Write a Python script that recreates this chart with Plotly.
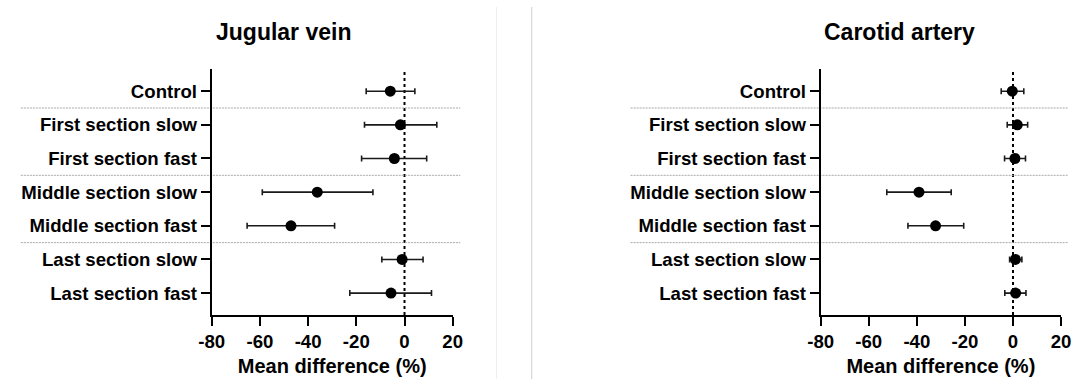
import plotly.graph_objects as go

# Groups shown on both forest plots (top to bottom)
categories = [
    "Control",
    "First section slow",
    "First section fast",
    "Middle section slow",
    "Middle section fast",
    "Last section slow",
    "Last section fast",
]

# Jugular vein: mean difference (%) with 95% CI bounds
jugular_mean = [-5.9, -1.7, -4.2, -36.2, -47.1, -1.0, -5.6]
jugular_low = [-15.9, -16.6, -17.8, -59.0, -65.3, -9.4, -22.7]
jugular_high = [4.3, 13.4, 9.2, -13.1, -29.0, 7.7, 11.2]

# Carotid artery: mean difference (%) with 95% CI bounds
carotid_mean = [-0.3, 1.8, 0.8, -39.1, -32.2, 1.0, 1.1]
carotid_low = [-4.9, -2.4, -3.5, -52.5, -43.7, -1.4, -3.4]
carotid_high = [4.5, 6.1, 5.2, -25.7, -20.5, 3.7, 5.4]

x_ticks = [-80, -60, -40, -20, 0, 20]
group_breaks = [0.5, 2.5, 4.5]

W, H = 1083, 379
FONT = "Liberation Sans"

def px_x(p):
    return p / W

def px_y(p):
    return 1 - p / H

ypos = list(range(len(categories)))

fig = go.Figure()

def add_series(mean, low, high, xa, ya):
    fig.add_trace(go.Scatter(
        x=mean, y=ypos, mode="markers",
        marker=dict(color="black", size=11),
        error_x=dict(
            type="data", symmetric=False,
            array=[h - m for h, m in zip(high, mean)],
            arrayminus=[m - l for m, l in zip(mean, low)],
            color="#1a1a1a", thickness=1.6, width=3,
        ),
        xaxis=xa, yaxis=ya, showlegend=False, hoverinfo="skip",
    ))

add_series(jugular_mean, jugular_low, jugular_high, "x", "y")
add_series(carotid_mean, carotid_low, carotid_high, "x2", "y2")

y_dom = [px_y(315), px_y(69.3)]
panels = {
    "": [px_x(203), px_x(449.25)],
    "2": [px_x(825.2), px_x(1070.8)],
}

tick_font = dict(family=FONT, size=18.6, color="black", weight="bold")
for suffix, dom in panels.items():
    fig.layout["xaxis" + suffix] = dict(
        domain=dom, anchor="y" + suffix, range=[-80, 20],
        tickvals=x_ticks, ticktext=[str(v) for v in x_ticks],
        showgrid=False, zeroline=False,
        showline=True, linecolor="black", linewidth=2,
        ticks="outside", ticklen=9, tickwidth=2, tickcolor="black",
        tickfont=tick_font,
        title=dict(text="Mean difference (%)",
                   font=dict(family=FONT, size=20, color="black", weight="bold"),
                   standoff=8),
    )
    fig.layout["yaxis" + suffix] = dict(
        domain=y_dom, anchor="x" + suffix, range=[6.65, -0.65],
        tickvals=ypos, ticktext=categories,
        showgrid=False, zeroline=False,
        showline=True, linecolor="black", linewidth=2,
        ticks="outside", ticklen=9, tickwidth=2, tickcolor="black",
        tickfont=tick_font,
    )

shapes = []
# dotted reference line at zero difference
for xa, ya in (("x", "y"), ("x2", "y2")):
    shapes.append(dict(
        type="line", xref=xa, yref=ya + " domain", x0=0, x1=0, y0=0, y1=1,
        line=dict(color="black", width=2, dash="dot"), layer="below",
    ))

# thin separators between section groups
for ya, (x0, x1) in (("y", (8, 457)), ("y2", (631, 1078))):
    for b in group_breaks:
        shapes.append(dict(
            type="line", xref="paper", yref=ya, x0=px_x(x0), x1=px_x(x1),
            y0=b, y1=b, line=dict(color="#a8a8a8", width=1, dash="2px,1px"),
            layer="below",
        ))

# panel dividers
shapes.append(dict(type="line", xref="paper", yref="paper",
                   x0=px_x(494), x1=px_x(494), y0=0, y1=px_y(7),
                   line=dict(color="#efefef", width=1)))
shapes.append(dict(type="line", xref="paper", yref="paper",
                   x0=px_x(530), x1=px_x(530), y0=0, y1=px_y(7),
                   line=dict(color="#cfcfcf", width=1)))

title_font = dict(family=FONT, size=23, color="black", weight="bold")
annotations = [
    dict(text="Jugular vein", x=px_x(276), y=px_y(32), xref="paper", yref="paper",
         xanchor="center", yanchor="middle", showarrow=False, font=title_font),
    dict(text="Carotid artery", x=px_x(906), y=px_y(32), xref="paper", yref="paper",
         xanchor="center", yanchor="middle", showarrow=False, font=title_font),
]

fig.update_layout(
    width=W, height=H,
    margin=dict(l=0, r=0, t=0, b=0),
    paper_bgcolor="white", plot_bgcolor="white",
    shapes=shapes, annotations=annotations,
)

fig.write_html("out.html")
